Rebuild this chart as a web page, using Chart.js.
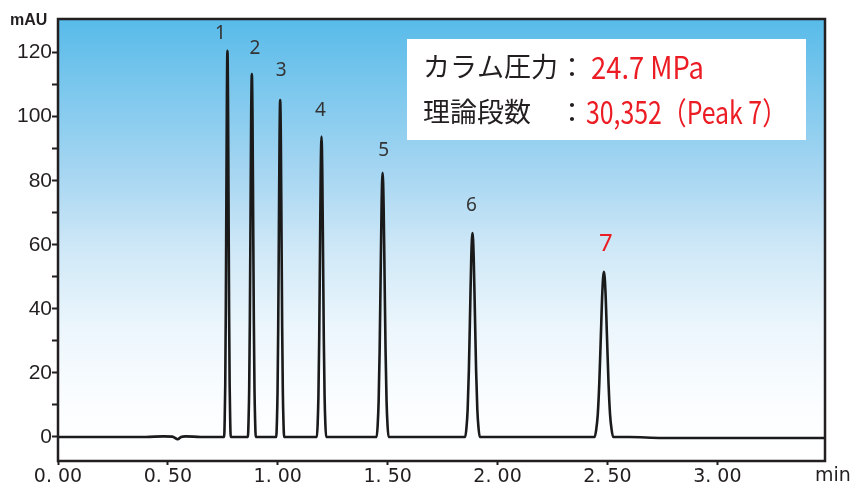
<!DOCTYPE html>
<html>
<head>
<meta charset="utf-8">
<script src="https://cdn.jsdelivr.net/npm/chart.js@4.4.1/dist/chart.umd.min.js"></script>
<style>
  html, body { margin: 0; padding: 0; background: #fff; }
  #wrap { width: 854px; height: 486px; }
</style>
</head>
<body>
<div id="wrap"><canvas id="chart"></canvas></div>
<script>
// Chromatogram data (time in min, signal in mAU)
const baselineTime   = [0.00, 0.40, 0.48, 0.52, 0.545, 0.56, 0.58, 0.65, 2.60, 2.75, 3.10, 3.49];
const baselineSignal = [0.0,  0.0,  0.2,  0.1,  -0.7,  0.0,  0.2,  0.0,  0.0, -0.3, -0.3, -0.3];

const peak1Time   = [0.756, 0.7585, 0.761, 0.7635, 0.766, 0.7685, 0.771, 0.7735, 0.776, 0.7785, 0.781, 0.7835, 0.786];
const peak1Signal = [0, 5.3, 16.3, 39.2, 73.1, 106.4, 120.6, 106.4, 73.1, 39.2, 16.3, 5.3, 0];

const peak2Time   = [0.864, 0.867, 0.870, 0.873, 0.876, 0.879, 0.882, 0.885, 0.888, 0.891, 0.894, 0.897, 0.900];
const peak2Signal = [0, 5.0, 15.3, 36.8, 68.7, 100.0, 113.3, 100.0, 68.7, 36.8, 15.3, 5.0, 0];

const peak3Time   = [0.993, 0.996, 0.999, 1.002, 1.005, 1.008, 1.011, 1.014, 1.017, 1.020, 1.023, 1.026, 1.029];
const peak3Signal = [0, 4.6, 14.2, 34.2, 63.8, 92.8, 105.2, 92.8, 63.8, 34.2, 14.2, 4.6, 0];

const peak4Time   = [1.178, 1.1815, 1.185, 1.1885, 1.192, 1.1955, 1.199, 1.2025, 1.206, 1.2095, 1.213, 1.2165, 1.220];
const peak4Signal = [0, 4.1, 12.7, 30.5, 56.9, 82.8, 93.8, 82.8, 56.9, 30.5, 12.7, 4.1, 0];

const peak5Time   = [1.450, 1.4545, 1.459, 1.4635, 1.468, 1.4725, 1.477, 1.4815, 1.486, 1.4905, 1.495, 1.4995, 1.504];
const peak5Signal = [0, 3.6, 11.2, 26.8, 50.0, 72.8, 82.5, 72.8, 50.0, 26.8, 11.2, 3.6, 0];

const peak6Time   = [1.853, 1.8585, 1.864, 1.8695, 1.875, 1.8805, 1.886, 1.8915, 1.897, 1.9025, 1.908, 1.9135, 1.919];
const peak6Signal = [0, 2.8, 8.6, 20.7, 38.6, 56.2, 63.7, 56.2, 38.6, 20.7, 8.6, 2.8, 0];

const peak7Time   = [2.442, 2.449, 2.456, 2.463, 2.470, 2.477, 2.484, 2.491, 2.498, 2.505, 2.512, 2.519, 2.526];
const peak7Signal = [0, 2.3, 7.0, 16.8, 31.3, 45.5, 51.6, 45.5, 31.3, 16.8, 7.0, 2.3, 0];

// Peak labels
const peakNames      = ['1', '2', '3', '4', '5', '6', '7'];
const peakApexTime   = [0.771, 0.882, 1.011, 1.199, 1.477, 1.886, 2.484];
const peakApexHeight = [120.6, 113.3, 105.2, 93.8, 82.5, 63.7, 51.6];

// Info box text
const infoLabels = ['カラム圧力', '理論段数'];
const infoValues = ['24.7 MPa', '30,352（Peak 7）'];

// Axis ticks
const xTickValues = [0, 0.5, 1.0, 1.5, 2.0, 2.5, 3.0];
const yTickValues = [0, 20, 40, 60, 80, 100, 120];

// Build the trace from baseline + peaks, sorted by time
const traceTimes = [baselineTime, peak1Time, peak2Time, peak3Time, peak4Time, peak5Time, peak6Time, peak7Time];
const traceSignals = [baselineSignal, peak1Signal, peak2Signal, peak3Signal, peak4Signal, peak5Signal, peak6Signal, peak7Signal];
let trace = [];
traceTimes.forEach((times, i) => {
  times.forEach((t, j) => trace.push({ x: t, y: traceSignals[i][j] }));
});
trace.sort((a, b) => a.x - b.x);

const INK = '#231f20';
const RED = '#ec1c24';

// Gradient background + white canvas
const backgroundPlugin = {
  id: 'background',
  beforeDraw(chart) {
    const { ctx, chartArea: a } = chart;
    ctx.save();
    ctx.fillStyle = '#ffffff';
    ctx.fillRect(0, 0, chart.width, chart.height);
    const g = ctx.createLinearGradient(0, a.top, 0, a.bottom);
    g.addColorStop(0, '#58bbe9');
    g.addColorStop(0.36, '#a9d7f2');
    g.addColorStop(0.52, '#cfe8f7');
    g.addColorStop(0.70, '#ecf6fc');
    g.addColorStop(0.86, '#fafdff');
    g.addColorStop(1, '#ffffff');
    ctx.fillStyle = g;
    ctx.fillRect(a.left, a.top, a.right - a.left, a.bottom - a.top);
    ctx.restore();
  }
};

// Frame, peak numbers, info box, axis titles
const annotationPlugin = {
  id: 'annotations',
  afterDraw(chart, args, opts) {
    const { ctx, chartArea: a } = chart;
    const xs = chart.scales.x, ys = chart.scales.y;
    ctx.save();

    // frame
    ctx.strokeStyle = INK;
    ctx.lineWidth = 2.5;
    ctx.strokeRect(a.left, a.top, a.right - a.left, a.bottom - a.top);

    // peak numbers
    ctx.textAlign = 'center';
    ctx.textBaseline = 'middle';
    peakNames.forEach((name, i) => {
      const px = xs.getPixelForValue(peakApexTime[i]) + opts.labelDx[i];
      const py = ys.getPixelForValue(peakApexHeight[i]) + opts.labelDy[i];
      const last = i === peakNames.length - 1;
      ctx.fillStyle = last ? RED : '#333333';
      ctx.font = last ? '24px "Noto Sans"' : '19px "Noto Sans"';
      ctx.fillText(name, px, py);
    });

    // info box
    ctx.fillStyle = '#ffffff';
    ctx.fillRect(407, 39, 399, 101);
    ctx.textBaseline = 'middle';
    const rows = [67, 112];
    const valueX = [591, 586];
    const valueW = [113, 201];
    infoLabels.forEach((lab, i) => {
      ctx.fillStyle = INK;
      ctx.font = '27px "Noto Sans CJK JP"';
      ctx.textAlign = 'left';
      ctx.fillText(lab, 423, rows[i]);
      ctx.textAlign = 'center';
      ctx.fillText('：', 572, rows[i]);
      ctx.textAlign = 'left';
      ctx.fillStyle = RED;
      ctx.font = '31px "Noto Sans CJK JP"';
      ctx.fillText(infoValues[i], valueX[i], rows[i], valueW[i]);
    });

    // axis titles
    ctx.fillStyle = INK;
    ctx.font = 'bold 16px "Liberation Sans"';
    ctx.textAlign = 'left';
    ctx.fillText('mAU', 10, 21);
    ctx.font = '19px "DejaVu Sans"';
    ctx.fillText('min', 815, 476);

    ctx.restore();
  }
};

new Chart(document.getElementById('chart'), {
  type: 'line',
  data: {
    datasets: [{
      data: trace,
      borderColor: '#1a1a1a',
      borderWidth: 2.6,
      pointRadius: 0,
      cubicInterpolationMode: 'monotone',
      fill: false
    }]
  },
  options: {
    responsive: true,
    maintainAspectRatio: false,
    animation: false,
    events: [],
    layout: { padding: { top: 19, right: 29, left: 0, bottom: 0 } },
    plugins: {
      legend: { display: false },
      tooltip: { enabled: false },
      annotations: {
        labelDx: [-7, 3, 1, -1, 1, -1, 2],
        labelDy: [-17, -25, -29, -26, -22, -27, -28]
      }
    },
    scales: {
      x: {
        type: 'linear',
        min: 0,
        max: 3.49,
        border: { display: false },
        grid: { drawOnChartArea: false, drawTicks: true, tickLength: 4, tickColor: INK, tickWidth: 2 },
        afterBuildTicks: scale => { scale.ticks = xTickValues.map(v => ({ value: v })); },
        afterFit: scale => { scale.height = 25; },
        ticks: {
          font: { family: 'DejaVu Sans', size: 19 },
          color: INK,
          padding: 1,
          maxRotation: 0,
          callback: v => v.toFixed(2).replace('.', '. ')
        }
      },
      y: {
        min: -7.5,
        max: 130.5,
        border: { display: false },
        grid: { drawOnChartArea: false, drawTicks: true, tickLength: 6, tickColor: INK, tickWidth: 2 },
        afterBuildTicks: scale => {
          const t = [];
          yTickValues.forEach(v => { t.push({ value: v }); if (v < 120) t.push({ value: v + 10 }); });
          scale.ticks = t;
        },
        afterFit: scale => { scale.width = 58; },
        ticks: {
          font: { family: 'Liberation Sans', size: 21 },
          color: INK,
          padding: 0,
          callback: v => (yTickValues.includes(v) ? String(v) : '')
        }
      }
    }
  },
  plugins: [backgroundPlugin, annotationPlugin]
});
</script>
</body>
</html>
